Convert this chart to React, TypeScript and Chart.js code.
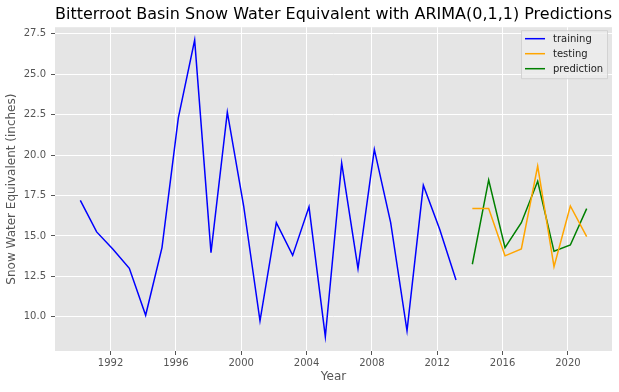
import React, { useEffect, useRef } from "react";
import { Chart, registerables } from "chart.js";

Chart.register(...registerables);

// Observations are taken early in each year (~late February), hence the fractional offset.
const obsOffset = 0.15;
const trainYears = [1990, 1991, 1992, 1993, 1994, 1995, 1996, 1997, 1998, 1999, 2000, 2001, 2002, 2003, 2004, 2005, 2006, 2007, 2008, 2009, 2010, 2011, 2012, 2013];
const trainValues = [17.2, 15.25, 14.18, 13.0, 10.1, 14.28, 22.3, 27.1, 13.97, 22.65, 16.85, 9.75, 15.82, 13.8, 16.8, 8.78, 19.5, 12.98, 20.35, 15.82, 9.14, 18.13, 15.41, 12.28];
const testYears = [2014, 2015, 2016, 2017, 2018, 2019, 2020, 2021];
const testValues = [16.69, 16.69, 13.77, 14.2, 19.32, 13.1, 16.85, 14.96];
const predValues = [13.25, 18.46, 14.28, 15.82, 18.38, 14.05, 14.44, 16.69];
const xTicks = [1992, 1996, 2000, 2004, 2008, 2012, 2016, 2020];
const yTicks = [10, 12.5, 15, 17.5, 20, 22.5, 25, 27.5];

const FONT = "'DejaVu Sans', sans-serif";

const seriesNames = ["training", "testing", "prediction"];
const seriesColors = ["#0000ff", "#ffa500", "#008000"];

const legendPlugin = {
  id: "mplLegend",
  afterDatasetsDraw(chart: any) {
    const { ctx, chartArea } = chart;
    ctx.save();
    ctx.font = `10px ${FONT}`;
    const textW = Math.max(...seriesNames.map((n) => ctx.measureText(n).width));
    const w = 4 + 20 + 8 + textW + 4;
    const h = 48;
    const x0 = Math.round(chartArea.right - 5 - w);
    const y0 = chartArea.top + 3;
    ctx.fillStyle = "rgba(236,236,236,0.8)";
    ctx.strokeStyle = "rgba(204,204,204,0.8)";
    ctx.lineWidth = 1;
    ctx.beginPath();
    ctx.rect(x0 + 0.5, y0 + 0.5, Math.round(w), h);
    ctx.fill();
    ctx.stroke();
    ctx.textBaseline = "middle";
    ctx.textAlign = "left";
    seriesNames.forEach((name, i) => {
      const yy = y0 + 8.5 + i * 15;
      ctx.strokeStyle = seriesColors[i];
      ctx.lineWidth = 1.5;
      ctx.beginPath();
      ctx.moveTo(x0 + 4, yy);
      ctx.lineTo(x0 + 24, yy);
      ctx.stroke();
      ctx.fillStyle = "#222";
      ctx.fillText(name, x0 + 32, yy + 0.5);
    });
    ctx.restore();
  },
};

const bgPlugin = {
  id: "plotBg",
  beforeDraw(chart: any) {
    const { ctx, chartArea } = chart;
    ctx.save();
    ctx.fillStyle = "#e5e5e5";
    ctx.fillRect(chartArea.left, chartArea.top, chartArea.right - chartArea.left, chartArea.bottom - chartArea.top);
    ctx.restore();
  },
};

export default function App() {
  const ref = useRef<HTMLCanvasElement>(null);
  useEffect(() => {
    document.body.style.margin = "0";
    const canvas = ref.current!;
    const chart = new Chart(canvas, {
      type: "line",
      data: {
        datasets: [
          {
            label: seriesNames[0],
            data: trainYears.map((x, i) => ({ x: x + obsOffset, y: trainValues[i] })),
            borderColor: seriesColors[0],
            borderWidth: 1.5,
            pointRadius: 0,
            tension: 0,
          },
          {
            label: seriesNames[1],
            data: testYears.map((x, i) => ({ x: x + obsOffset, y: testValues[i] })),
            borderColor: seriesColors[1],
            borderWidth: 1.5,
            pointRadius: 0,
            tension: 0,
          },
          {
            label: seriesNames[2],
            data: testYears.map((x, i) => ({ x: x + obsOffset, y: predValues[i] })),
            borderColor: seriesColors[2],
            borderWidth: 1.5,
            pointRadius: 0,
            tension: 0,
          },
        ],
      },
      options: {
        animation: false,
        responsive: false,
        devicePixelRatio: 1,
        layout: { padding: { left: 0, right: 7, top: 0, bottom: 0 } },
        plugins: {
          legend: { display: false },
          tooltip: { enabled: false },
          title: {
            display: true,
            text: "Bitterroot Basin Snow Water Equivalent with ARIMA(0,1,1) Predictions",
            color: "#000",
            font: { family: FONT, size: 16, weight: "normal" },
            padding: { top: 5, bottom: 3 },
            fullSize: false,
          },
        },
        scales: {
          x: {
            type: "linear",
            min: 1988.6,
            max: 2022.7,
            afterBuildTicks: (s: any) => {
              s.ticks = xTicks.map((v) => ({ value: v }));
            },
            afterFit: (s: any) => {
              s.height = 41;
            },
            ticks: {
              color: "#555",
              font: { family: FONT, size: 10 },
              padding: 2,
              maxRotation: 0,
              autoSkip: false,
              callback: (v: any) => String(v),
            },
            grid: { color: "#ffffff", lineWidth: 1, tickColor: "#555", tickLength: 4 },
            border: { display: false },
            title: {
              display: true,
              text: "Year",
              color: "#555",
              font: { family: FONT, size: 12 },
              padding: { top: 8, bottom: 8 },
            },
          },
          y: {
            type: "linear",
            min: 7.89,
            max: 27.9,
            afterBuildTicks: (s: any) => {
              s.ticks = yTicks.map((v) => ({ value: v }));
            },
            afterFit: (s: any) => {
              s.width = 55;
            },
            ticks: {
              color: "#555",
              font: { family: FONT, size: 10 },
              padding: 5,
              autoSkip: false,
              callback: (v: any) => Number(v).toFixed(1),
            },
            grid: { color: "#ffffff", lineWidth: 1, tickColor: "#555", tickLength: 4 },
            border: { display: false },
            title: {
              display: true,
              text: "Snow Water Equivalent (inches)",
              color: "#555",
              font: { family: FONT, size: 12 },
              padding: { top: 5, bottom: 5 },
            },
          },
        },
      },
      plugins: [bgPlugin, legendPlugin],
    } as any);
    return () => chart.destroy();
  }, []);
  return (
    <div style={{ position: "absolute", left: 0, top: 0, width: 619, height: 392 }}>
      <canvas ref={ref} width={619} height={392} />
    </div>
  );
}
